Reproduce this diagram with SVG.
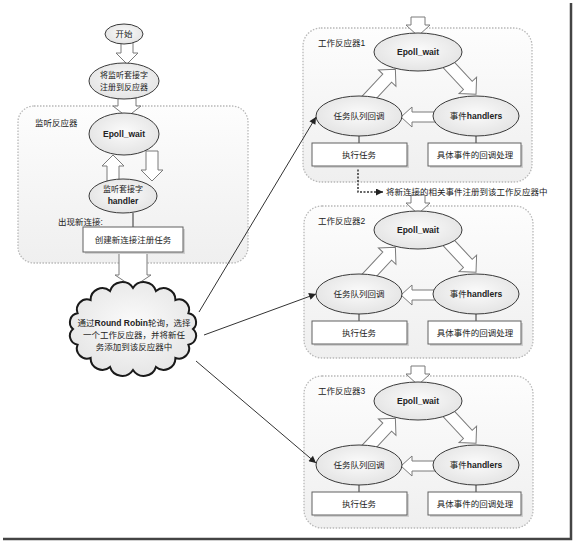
<svg xmlns="http://www.w3.org/2000/svg" width="574" height="543" viewBox="0 0 574 543">
<defs>
<style>
.t{font-family:"Liberation Sans","Noto Sans CJK SC",sans-serif;font-size:8.5px;fill:#222;text-anchor:middle}
.s{text-anchor:start}
.b{font-weight:bold}
.el{fill:url(#eg);stroke:#3a3a3a;stroke-width:1}
.box{fill:#fff;stroke:#606060;stroke-width:1}
.sh{fill:#d0d0d0}
.cont{fill:url(#cg);stroke:#b8b8b8;stroke-width:1.3;stroke-dasharray:1.5 1.5}
.ha{fill:#fff;stroke:#7a7a7a;stroke-width:1}
.ln{fill:none;stroke:#333;stroke-width:1}
.dot{fill:none;stroke:#333;stroke-width:1.5;stroke-dasharray:2 1.5}
</style>
<radialGradient id="eg" cx="0.5" cy="0.45" r="0.6">
<stop offset="0" stop-color="#fbfbfb"/>
<stop offset="1" stop-color="#e2e2e2"/>
</radialGradient>
<linearGradient id="cg" x1="0" y1="0" x2="0" y2="1">
<stop offset="0" stop-color="#fdfdfd"/>
<stop offset="1" stop-color="#efefef"/>
</linearGradient>
<radialGradient id="clg" cx="0.5" cy="0.45" r="0.6">
<stop offset="0" stop-color="#fbfbfb"/>
<stop offset="1" stop-color="#e4e4e4"/>
</radialGradient>
<marker id="ah" viewBox="0 0 10 10" refX="10" refY="5" markerWidth="10" markerHeight="7" markerUnits="userSpaceOnUse" orient="auto">
<path d="M0,0 L10,5 L0,10 z" fill="#222"/>
</marker>
</defs>

<rect width="574" height="543" fill="#fff"/>
<path d="M3,539 H571 V3" fill="none" stroke="#444" stroke-width="2.5"/>

<!-- containers -->
<g id="listen-reactor">
<rect class="cont" x="18" y="106" width="230" height="157" rx="16"/>
<text class="t s" x="35" y="126">监听反应器</text>
</g>
<g id="reactor1-box">
<rect class="cont" x="303" y="28" width="229" height="154" rx="18"/>
<text class="t s" x="318" y="46">工作反应器1</text>
</g>
<g id="reactor2-box">
<rect class="cont" x="304" y="206" width="229" height="152" rx="18"/>
<text class="t s" x="318" y="224">工作反应器2</text>
</g>
<g id="reactor3-box">
<rect class="cont" x="304" y="376" width="229" height="152" rx="18"/>
<text class="t s" x="318" y="394">工作反应器3</text>
</g>

<!-- connectors -->
<g id="connectors">
<polygon class="ha" transform="translate(127,42) rotate(90)" points="0,-6 11,-6 11,-11 22,0 11,11 11,6 0,6"/>
<polygon class="ha" transform="translate(127,98) rotate(90)" points="0,-9 8,-9 8,-14 19,0 8,14 8,9 0,9"/>
<polygon class="ha" transform="translate(113,181) rotate(-90)" points="0,-6 15,-6 15,-11 26,0 15,11 15,6 0,6"/>
<polygon class="ha" transform="translate(152,151) rotate(90)" points="0,-6 19,-6 19,-11 30,0 19,11 19,6 0,6"/>
<polygon class="ha" transform="translate(133,251) rotate(90)" points="0,-14 24,-14 24,-18 36,0 24,18 24,14 0,14"/>
<path class="ln" d="M133,213 V227"/>

<polygon class="ha" transform="translate(418,17) rotate(90)" points="0,-7 8,-7 8,-12 19,0 8,12 8,7 0,7"/>
<polygon class="ha" transform="translate(446,62) rotate(47)" points="0,-6 32,-6 32,-12 44,0 32,12 32,6 0,6"/>
<polygon class="ha" transform="translate(438,117) rotate(180)" points="0,-5 26,-5 26,-10 37,0 26,10 26,5 0,5"/>
<polygon class="ha" transform="translate(364,103) rotate(-47)" points="0,-6 34,-6 34,-12 46,0 34,12 34,6 0,6"/>
<path class="ln" d="M359,136 V143 M476,136 V143"/>

<polygon class="ha" transform="translate(418,195) rotate(90)" points="0,-7 8,-7 8,-12 19,0 8,12 8,7 0,7"/>
<polygon class="ha" transform="translate(446,240) rotate(47)" points="0,-6 32,-6 32,-12 44,0 32,12 32,6 0,6"/>
<polygon class="ha" transform="translate(438,295) rotate(180)" points="0,-5 26,-5 26,-10 37,0 26,10 26,5 0,5"/>
<polygon class="ha" transform="translate(364,281) rotate(-47)" points="0,-6 34,-6 34,-12 46,0 34,12 34,6 0,6"/>
<path class="ln" d="M359,314 V321 M476,314 V321"/>

<polygon class="ha" transform="translate(418,366) rotate(90)" points="0,-7 8,-7 8,-12 19,0 8,12 8,7 0,7"/>
<polygon class="ha" transform="translate(446,411) rotate(47)" points="0,-6 32,-6 32,-12 44,0 32,12 32,6 0,6"/>
<polygon class="ha" transform="translate(438,466) rotate(180)" points="0,-5 26,-5 26,-10 37,0 26,10 26,5 0,5"/>
<polygon class="ha" transform="translate(364,452) rotate(-47)" points="0,-6 34,-6 34,-12 46,0 34,12 34,6 0,6"/>
<path class="ln" d="M359,485 V492 M476,485 V492"/>

<path class="ln" d="M199,312 L316,117" marker-end="url(#ah)"/>
<path class="ln" d="M204,335 L316,294" marker-end="url(#ah)"/>
<path class="ln" d="M196,361 L316,463" marker-end="url(#ah)"/>

<path class="dot" d="M358,166 V192 H383" marker-end="url(#ah)"/>
<text class="t s" x="386" y="195">将新连接的相关事件注册到该工作反应器中</text>
</g>

<!-- left nodes -->
<g id="start">
<ellipse class="el" cx="124" cy="34" rx="19" ry="10"/>
<text class="t" x="124" y="37">开始</text>
</g>
<g id="register-listen">
<ellipse class="el" cx="124" cy="81" rx="35" ry="18"/>
<text class="t" x="124" y="78" style="font-size:8px">将监听套接字</text>
<text class="t" x="124" y="90" style="font-size:8px">注册到反应器</text>
</g>
<g id="listen-epoll">
<ellipse class="el" cx="124" cy="134" rx="35" ry="21"/>
<text class="t b" x="124" y="137">Epoll_wait</text>
</g>
<g id="listen-handler">
<ellipse class="el" cx="123" cy="196" rx="34" ry="17"/>
<text class="t" x="123" y="192" style="font-size:8px">监听套接字</text>
<text class="t b" x="123" y="204">handler</text>
</g>
<g id="new-conn-label">
<text class="t s" x="58" y="225">出现新连接:</text>
</g>
<g id="create-task">
<rect class="sh" x="85" y="229" width="100" height="25"/>
<rect class="box" x="83" y="227" width="100" height="25"/>
<text class="t" x="133" y="243">创建新连接注册任务</text>
</g>
<g id="round-robin">
<path d="M193,329 A9,9 0 0,1 188.4,344.7 A10.2,10.2 0 0,1 175.4,358 A11.7,11.7 0 0,1 156,366.9 A12.8,12.8 0 0,1 133,370 A12.8,12.8 0 0,1 110,366.9 A11.7,11.7 0 0,1 90.6,358 A10.2,10.2 0 0,1 77.6,344.7 A9,9 0 0,1 73,329 A9,9 0 0,1 77.6,313.3 A10.2,10.2 0 0,1 90.6,300 A11.7,11.7 0 0,1 110,291.1 A12.8,12.8 0 0,1 133,288 A12.8,12.8 0 0,1 156,291.1 A11.7,11.7 0 0,1 175.4,300 A10.2,10.2 0 0,1 188.4,313.3 A9,9 0 0,1 193,329 Z" fill="url(#clg)" stroke="#1a1a1a" stroke-width="2"/>
<text class="t" x="134" y="326">通过<tspan class="b">Round Robin</tspan>轮询，选择</text>
<text class="t" x="134" y="338">一个工作反应器，并将新任</text>
<text class="t" x="134" y="350">务添加到该反应器中</text>
</g>

<!-- worker reactor 1 -->
<g id="reactor1">
<g id="r1-epoll"><ellipse class="el" cx="418" cy="52" rx="44" ry="19"/><text class="t b" x="418" y="55">Epoll_wait</text></g>
<g id="r1-tasks"><ellipse class="el" cx="359" cy="116" rx="43" ry="20"/><text class="t" x="359" y="119">任务队列回调</text></g>
<g id="r1-events"><ellipse class="el" cx="476" cy="116" rx="43" ry="20"/><text class="t" x="476" y="119">事件<tspan class="b">handlers</tspan></text></g>
<g id="r1-exec"><rect class="sh" x="314" y="145" width="95" height="23"/><rect class="box" x="312" y="143" width="95" height="23"/><text class="t" x="359" y="158">执行任务</text></g>
<g id="r1-cb"><rect class="sh" x="430" y="145" width="93" height="23"/><rect class="box" x="428" y="143" width="93" height="23"/><text class="t" x="475" y="158">具体事件的回调处理</text></g>
</g>

<!-- worker reactor 2 -->
<g id="reactor2" transform="translate(0,178)">
<g id="r2-epoll"><ellipse class="el" cx="418" cy="52" rx="44" ry="19"/><text class="t b" x="418" y="55">Epoll_wait</text></g>
<g id="r2-tasks"><ellipse class="el" cx="359" cy="116" rx="43" ry="20"/><text class="t" x="359" y="119">任务队列回调</text></g>
<g id="r2-events"><ellipse class="el" cx="476" cy="116" rx="43" ry="20"/><text class="t" x="476" y="119">事件<tspan class="b">handlers</tspan></text></g>
<g id="r2-exec"><rect class="sh" x="314" y="145" width="95" height="23"/><rect class="box" x="312" y="143" width="95" height="23"/><text class="t" x="359" y="158">执行任务</text></g>
<g id="r2-cb"><rect class="sh" x="430" y="145" width="93" height="23"/><rect class="box" x="428" y="143" width="93" height="23"/><text class="t" x="475" y="158">具体事件的回调处理</text></g>
</g>

<!-- worker reactor 3 -->
<g id="reactor3" transform="translate(0,349)">
<g id="r3-epoll"><ellipse class="el" cx="418" cy="52" rx="44" ry="19"/><text class="t b" x="418" y="55">Epoll_wait</text></g>
<g id="r3-tasks"><ellipse class="el" cx="359" cy="116" rx="43" ry="20"/><text class="t" x="359" y="119">任务队列回调</text></g>
<g id="r3-events"><ellipse class="el" cx="476" cy="116" rx="43" ry="20"/><text class="t" x="476" y="119">事件<tspan class="b">handlers</tspan></text></g>
<g id="r3-exec"><rect class="sh" x="314" y="145" width="95" height="23"/><rect class="box" x="312" y="143" width="95" height="23"/><text class="t" x="359" y="158">执行任务</text></g>
<g id="r3-cb"><rect class="sh" x="430" y="145" width="93" height="23"/><rect class="box" x="428" y="143" width="93" height="23"/><text class="t" x="475" y="158">具体事件的回调处理</text></g>
</g>
</svg>
